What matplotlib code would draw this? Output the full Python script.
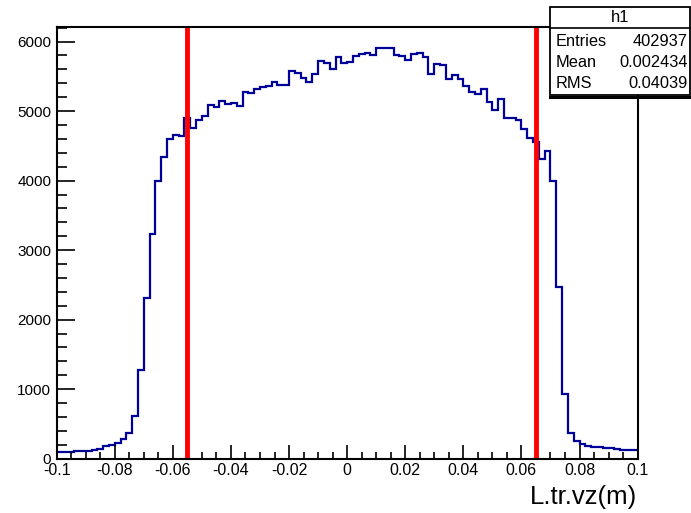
import numpy as np
import matplotlib
matplotlib.use("Agg")
import matplotlib.pyplot as plt
from matplotlib.patches import Rectangle

plt.rcParams['font.family'] = ['Liberation Sans', 'DejaVu Sans']

# histogram h1 : L.tr.vz, 100 bins in [-0.1, 0.1]
x_min, x_max, n_bins = -0.1, 0.1, 100
counts = [
    96, 98, 100, 115, 105, 115, 125, 134, 177, 196,
    220, 277, 364, 612, 1282, 2316, 3225, 3990, 4344, 4603,
    4660, 4646, 4900, 4756, 4871, 4928, 5091, 5053, 5149, 5101,
    5120, 5072, 5268, 5254, 5321, 5340, 5359, 5421, 5378, 5378,
    5570, 5550, 5469, 5412, 5527, 5723, 5699, 5603, 5785, 5699,
    5713, 5799, 5818, 5837, 5804, 5914, 5914, 5910, 5809, 5799,
    5737, 5818, 5837, 5775, 5531, 5675, 5670, 5460, 5522, 5455,
    5364, 5273, 5244, 5316, 5130, 5015, 5177, 4900, 4900, 4871,
    4737, 4613, 4555, 4316, 4421, 3996, 2469, 929, 364, 259,
    211, 187, 172, 163, 153, 148, 139, 129, 120, 129,
]
cut_lines = [-0.055, 0.065]

x_ticks = [-0.1, -0.08, -0.06, -0.04, -0.02, 0, 0.02, 0.04, 0.06, 0.08, 0.1]
x_tick_labels = ['-0.1', '-0.08', '-0.06', '-0.04', '-0.02', '0',
                 '0.02', '0.04', '0.06', '0.08', '0.1']
y_ticks = [0, 1000, 2000, 3000, 4000, 5000, 6000]

stats_title = 'h1'
stats_rows = [('Entries', '402937'), ('Mean', '0.002434'), ('RMS', '0.04039')]

W, H = 691, 513
fig = plt.figure(figsize=(W / 100, H / 100), dpi=100)
ax = fig.add_axes([56.7 / W, 1 - 458.7 / H, (637.6 - 56.7) / W, (458.7 - 27) / H])

edges = np.linspace(x_min, x_max, n_bins + 1)
ax.stairs(counts, edges, baseline=None, color='#000099', linewidth=1.6)
for xc in cut_lines:
    ax.axvline(xc, color='#ff0000', linewidth=3.5)

ax.set_xlim(x_min, x_max)
ax.set_ylim(0, max(counts) * 1.05)

ax.set_xticks(x_ticks)
ax.set_xticklabels(x_tick_labels)
ax.set_xticks(np.arange(-0.1, 0.1001, 0.005), minor=True)
ax.set_yticks(y_ticks)
ax.set_yticks(np.arange(0, 6201, 200), minor=True)

ax.tick_params(axis='x', which='major', direction='in', length=10, width=1.2,
               labelsize=11.5, pad=3)
ax.tick_params(axis='x', which='minor', direction='in', length=5, width=1.2)
ax.tick_params(axis='y', which='major', direction='in', length=13, width=1.2,
               labelsize=11, pad=4)
ax.tick_params(axis='y', which='minor', direction='in', length=7, width=1.2)
for s in ax.spines.values():
    s.set_linewidth(1.5)

fig.text(637.6 / W, 1 - 497 / H, 'L.tr.vz(m)', ha='right', va='center', fontsize=18.5)

# stats box
bx0, bx1, by0, by1 = 550, 690, 7, 95
fig.patches.append(Rectangle((bx0 / W, 1 - by1 / H), (bx1 - bx0) / W, (by1 - by0) / H,
                             transform=fig.transFigure, facecolor='white',
                             edgecolor='black', linewidth=1.3, zorder=5))
fig.lines.append(plt.Line2D([bx0 / W, bx1 / W], [1 - 28 / H, 1 - 28 / H],
                            transform=fig.transFigure, color='black', linewidth=1.2, zorder=6))
fig.lines.append(plt.Line2D([bx0 / W, bx1 / W], [1 - 96.5 / H, 1 - 96.5 / H],
                            transform=fig.transFigure, color='black', linewidth=2.2, zorder=6))
fig.text(620 / W, 1 - 18 / H, stats_title, ha='center', va='center', fontsize=12, zorder=7)
for i, (lab, val) in enumerate(stats_rows):
    yy = 1 - (41 + 21.5 * i) / H
    fig.text(556 / W, yy, lab, ha='left', va='center', fontsize=11.8, zorder=7)
    fig.text(688 / W, yy, val, ha='right', va='center', fontsize=11.8, zorder=7)

fig.savefig('out.png', dpi=100)
